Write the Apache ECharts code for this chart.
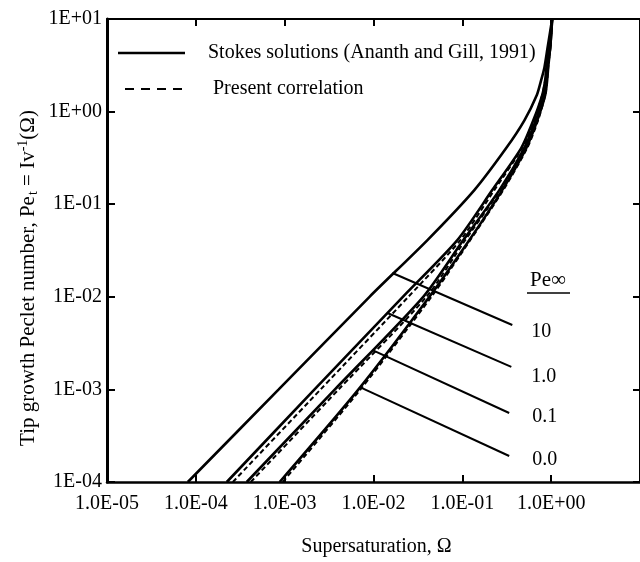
<!DOCTYPE html>
<html>
<head>
<meta charset="utf-8">
<script src="https://cdn.jsdelivr.net/npm/echarts@6/dist/echarts.min.js"></script>
<style>html,body{margin:0;padding:0;background:#fff}#c{width:640px;height:562px}</style>
</head>
<body>
<div id="c"></div>
<script>
// Tip growth Peclet number levels (y) shared by all curves
const peTip = [1e-4, 1e-3, 1e-2, 0.041, 0.142, 0.404, 0.8, 1.51, 2.2, 3.0, 4.86, 10];
// Stokes solutions (Ananth and Gill, 1991): supersaturation per Pe_t level
const omegaStokes10 = [8.13e-5, 8.57e-4, 9.02e-3, 0.0405, 0.1365, 0.312, 0.498, 0.690, 0.773, 0.840, 0.910, 1.026];
const omegaStokes1  = [2.23e-4, 2.17e-3, 0.0214, 0.0879, 0.217, 0.460, 0.628, 0.793, 0.857, 0.885, 0.951, 1.026];
const omegaStokes01 = [3.74e-4, 3.68e-3, 0.0363, 0.1026, 0.261, 0.498, 0.670, 0.834, 0.879, 0.905, 0.975, 1.026];
const omegaStokes0  = [8.79e-4, 6.78e-3, 0.0426, 0.120, 0.281, 0.524, 0.697, 0.857, 0.902, 0.926, 0.975, 1.026];
// Present correlation
const omegaCorr1  = [2.61e-4, 2.54e-3, 0.0247, 0.0951, 0.229, 0.472, 0.645, 0.793, 0.857, 0.885, 0.951, 1.026];
const omegaCorr01 = [4.15e-4, 4.05e-3, 0.0394, 0.108, 0.267, 0.511, 0.678, 0.834, 0.879, 0.905, 0.975, 1.026];
const omegaCorr0  = [9.51e-4, 7.14e-3, 0.0449, 0.123, 0.289, 0.537, 0.711, 0.857, 0.902, 0.926, 0.975, 1.026];
// Leader lines to the Pe-infinity labels: [omega, Pe_t]
const leaderStart = [[0.01633, 0.01807], [0.01436, 0.00668], [0.00975, 0.00266], [0.00733, 0.00104]];
const leaderEnd   = [[0.365, 0.00496], [0.356, 0.00175], [0.337, 0.000556], [0.337, 0.000191]];
const peInfLabels = ['10', '1.0', '0.1', '0.0'];
// Tick labels
const xTickLabels = ['1.0E-05', '1.0E-04', '1.0E-03', '1.0E-02', '1.0E-01', '1.0E+00'];
const yTickLabels = ['1E-04', '1E-03', '1E-02', '1E-01', '1E+00', '1E+01'];

const nameSolid = 'Stokes solutions (Ananth and Gill, 1991)';
const nameDashed = 'Present correlation';
const FONT = 'Liberation Serif';

function pairs(xs, ys) { return xs.map((x, i) => [x, ys[i]]); }

const solidSets = [omegaStokes10, omegaStokes1, omegaStokes01, omegaStokes0];
const dashedSets = [omegaCorr1, omegaCorr01, omegaCorr0];

const series = [];
solidSets.forEach(s => series.push({
  name: nameSolid, type: 'line', data: pairs(s, peTip), showSymbol: false, symbol: 'none',
  smooth: 0.25, color: '#000', lineStyle: { color: '#000', width: 2.6, type: 'solid' }, silent: true, z: 3
}));
dashedSets.forEach(s => series.push({
  name: nameDashed, type: 'line', data: pairs(s, peTip), showSymbol: false, symbol: 'none',
  smooth: 0.25, color: '#000', lineStyle: { color: '#000', width: 2, type: [5, 3] }, silent: true, z: 4
}));
const labelOffsets = [[0, 7], [0, 10], [0, 4], [0, 4]];
const labelDist = [19, 20, 23, 23];
leaderStart.forEach((p, i) => series.push({
  name: 'leader' + i, type: 'line', showSymbol: false, symbol: 'none', silent: true,
  color: '#000', lineStyle: { color: '#000', width: 2 },
  data: [p, leaderEnd[i]],
  endLabel: { show: true, distance: labelDist[i], offset: labelOffsets[i],
    formatter: () => peInfLabels[i], fontFamily: FONT, fontSize: 20, color: '#000' }
}));

const xFmt = v => xTickLabels[Math.round(Math.log10(v)) + 5] || '';
const yFmt = v => yTickLabels[Math.round(Math.log10(v)) + 4] || '';

const chart = echarts.init(document.getElementById('c'), null, { renderer: 'canvas' });
chart.setOption({
  animation: false,
  backgroundColor: '#fff',
  grid: { left: 107, top: 19, width: 534, height: 463, containLabel: false },
  xAxis: [{
    type: 'log', logBase: 10, min: 1e-5, max: 10, position: 'bottom',
    axisLine: { lineStyle: { color: '#000', width: 2.5 } },
    axisTick: { inside: true, length: 7, lineStyle: { color: '#000', width: 2 } },
    minorTick: { show: false }, splitLine: { show: false },
    axisLabel: { formatter: xFmt, fontFamily: FONT, fontSize: 20, color: '#000', margin: 12, showMaxLabel: false },
    name: 'Supersaturation, Ω', nameLocation: 'middle', nameGap: 55,
    nameTextStyle: { fontFamily: FONT, fontSize: 20, color: '#000', padding: [0, 0, 0, 6] }
  }, {
    type: 'log', logBase: 10, min: 1e-5, max: 10, position: 'top',
    axisLine: { lineStyle: { color: '#000', width: 2 } },
    axisTick: { inside: true, length: 7, lineStyle: { color: '#000', width: 2 } },
    axisLabel: { show: false }, splitLine: { show: false }
  }],
  yAxis: [{
    type: 'log', logBase: 10, min: 1e-4, max: 10, position: 'left',
    axisLine: { lineStyle: { color: '#000', width: 3 } },
    axisTick: { inside: true, length: 8, lineStyle: { color: '#000', width: 2 } },
    minorTick: { show: false }, splitLine: { show: false },
    axisLabel: { formatter: yFmt, fontFamily: FONT, fontSize: 20, color: '#000', margin: 5 }
  }, {
    type: 'log', logBase: 10, min: 1e-4, max: 10, position: 'right',
    axisLine: { lineStyle: { color: '#000', width: 2 } },
    axisTick: { inside: true, length: 7, lineStyle: { color: '#000', width: 2 } },
    axisLabel: { show: false }, splitLine: { show: false }
  }],
  graphic: [
    {
      type: 'text', x: 28, y: 278, rotation: Math.PI / 2,
      style: {
        text: '{a|Tip growth Peclet number, Pe}{s|t}{a| = Iv}{p|-1}{a|(Ω)}',
        rich: {
          a: { fontFamily: FONT, fontSize: 21, fill: '#000' },
          s: { fontFamily: FONT, fontSize: 14, fill: '#000', padding: [10, 0, 0, 1] },
          p: { fontFamily: FONT, fontSize: 14, fill: '#000', padding: [0, 0, 10, 0] }
        },
        align: 'center', verticalAlign: 'middle', fill: '#000'
      }
    },
    // legend
    { type: 'line', shape: { x1: 118, y1: 53, x2: 185, y2: 53 }, style: { stroke: '#000', lineWidth: 2.5 } },
    { type: 'text', x: 208, y: 53, style: { text: nameSolid, fontFamily: FONT, fontSize: 20, fill: '#000', verticalAlign: 'middle' } },
    { type: 'line', shape: { x1: 125, y1: 89, x2: 185, y2: 89 }, style: { stroke: '#000', lineWidth: 2, lineDash: [9, 7] } },
    { type: 'text', x: 213, y: 89, style: { text: nameDashed, fontFamily: FONT, fontSize: 20, fill: '#000', verticalAlign: 'middle' } },
    // Pe-infinity header
    {
      type: 'text', x: 548, y: 280,
      style: { text: 'Pe∞', fontFamily: FONT, fontSize: 21, fill: '#000', align: 'center', verticalAlign: 'middle' }
    },
    { type: 'line', shape: { x1: 527, y1: 293, x2: 570, y2: 293 }, style: { stroke: '#000', lineWidth: 1.5 } }
  ],
  series: series
});
</script>
</body>
</html>
